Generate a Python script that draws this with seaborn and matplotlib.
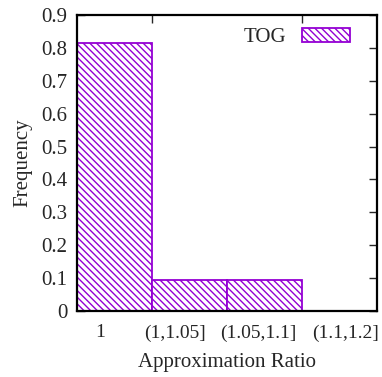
import numpy as np
import pandas as pd
import seaborn as sns
import matplotlib.pyplot as plt
from matplotlib.transforms import ScaledTranslation

ratios = ['1', '(1,1.05]', '(1.05,1.1]', '(1.1,1.2]']
freq = [0.815, 0.095, 0.095, 0.0]
series = 'TOG'
purple = '#9400d3'

sns.set_style('ticks')
plt.rcParams['font.family'] = ['Liberation Serif', 'DejaVu Serif']
plt.rcParams['hatch.color'] = purple
plt.rcParams['hatch.linewidth'] = 1.0

df = pd.DataFrame({'ratio': ratios, 'freq': freq})

fig = plt.figure(figsize=(3.82, 3.77), dpi=100)
ax = fig.add_axes([0.2016, 0.175, 0.785, 0.785])
sns.barplot(data=df, x='ratio', y='freq', width=1, color='white',
            edgecolor=purple, linewidth=1.3, label=series, ax=ax)
for p in ax.patches:
    p.set_hatch('\\\\\\\\\\')

ax.set_xlim(-0.5, 3.5)
ax.set_ylim(0, 0.9)
ax.set_yticks(np.arange(0, 0.91, 0.1))
ax.set_yticklabels(['0'] + ['%.1f' % v for v in np.arange(0.1, 0.91, 0.1)])
ax.set_xlabel('Approximation Ratio', fontsize=15, labelpad=8)
ax.set_ylabel('Frequency', fontsize=15, labelpad=6)
ax.tick_params(axis='y', direction='in', left=True, right=True, length=6,
               width=1, labelsize=15, pad=7)
ax.tick_params(axis='x', which='major', bottom=False, top=False, labelsize=14, pad=6)
ax.set_xticks([0.5, 2.5], minor=True)
ax.tick_params(axis='x', which='minor', bottom=False, top=True, direction='in',
               length=6, width=1)
for s in ax.spines.values():
    s.set_linewidth(1.6)
    s.set_color('black')

# gnuplot put the labels a bit left of the bar centres
for lab, dx in zip(ax.get_xticklabels(), [-14, -14, -6, 6]):
    lab.set_transform(lab.get_transform() + ScaledTranslation(dx / 100, 0, fig.dpi_scale_trans))

ax.legend(loc='upper right', bbox_to_anchor=(0.937, 0.983), frameon=False,
          markerfirst=False, fontsize=15, handlelength=2.3, handleheight=0.6,
          handletextpad=0.75, borderaxespad=0.0)

fig.savefig('out.png', dpi=100)
